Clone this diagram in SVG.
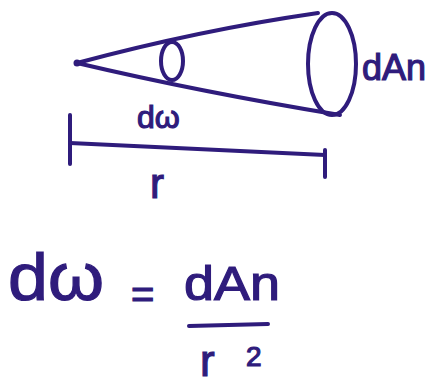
<svg xmlns="http://www.w3.org/2000/svg" width="446" height="385" viewBox="0 0 446 385">
<style>
.ink{fill:none;stroke:#2f1c7c;stroke-width:4;stroke-linecap:round;stroke-linejoin:round}
.t{fill:#2f1c7c;stroke:#2f1c7c;stroke-width:1.2;font-family:"Liberation Sans","DejaVu Sans",sans-serif}
</style>
<rect width="446" height="385" fill="#ffffff"/>
<g id="cone">
<path class="ink" d="M77,63 Q200,30 318,13"/>
<path class="ink" d="M77,63 Q200,92 340,115"/>
<circle cx="77" cy="63" r="3.5" fill="#2f1c7c"/>
</g>
<g id="small-ellipse">
<ellipse class="ink" cx="172" cy="61" rx="11" ry="19"/>
</g>
<g id="big-ellipse">
<ellipse class="ink" cx="332" cy="64" rx="24" ry="51"/>
</g>
<g id="label-dAn">
<text class="t" x="362" y="80" font-size="36">dAn</text>
</g>
<g id="label-dw">
<text class="t" x="137" y="128" font-size="32">dω</text>
</g>
<g id="connectors">
<line class="ink" x1="70" y1="115" x2="70" y2="164"/>
<path class="ink" d="M70,143 L325,155"/>
<line class="ink" x1="325" y1="150" x2="325" y2="177"/>
</g>
<g id="label-r">
<text class="t" x="150" y="198" font-size="42">r</text>
</g>
<g id="equation">
<text class="t" x="8" y="300" font-size="66" textLength="96" lengthAdjust="spacingAndGlyphs">dω</text>
<text class="t" x="131" y="308" font-size="40">=</text>
<text class="t" x="184" y="300" font-size="48" textLength="96" lengthAdjust="spacingAndGlyphs">dAn</text>
<line class="ink" x1="189" y1="326" x2="268" y2="324"/>
<text class="t" x="200" y="376" font-size="44">r</text>
<text class="t" x="246" y="366" font-size="28">2</text>
</g>
</svg>
